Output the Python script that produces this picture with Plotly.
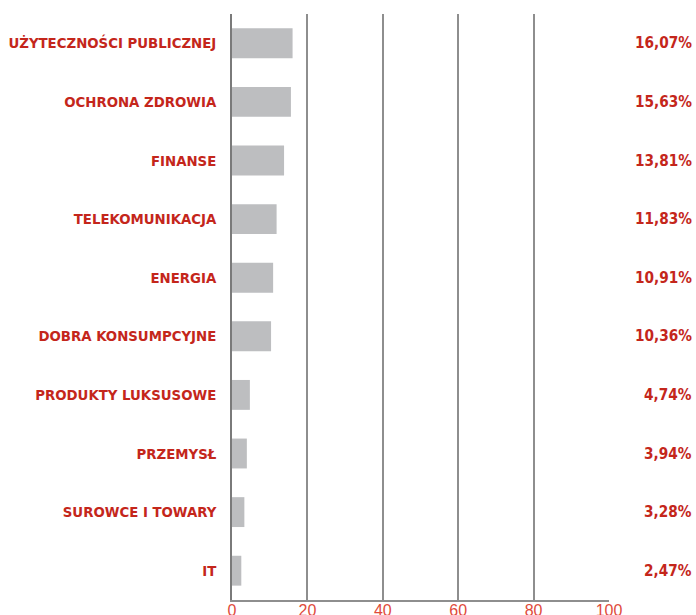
import plotly.graph_objects as go

categories = ["UŻYTECZNOŚCI PUBLICZNEJ", "OCHRONA ZDROWIA", "FINANSE", "TELEKOMUNIKACJA",
              "ENERGIA", "DOBRA KONSUMPCYJNE", "PRODUKTY LUKSUSOWE", "PRZEMYSŁ",
              "SUROWCE I TOWARY", "IT"]
values = [16.07, 15.63, 13.81, 11.83, 10.91, 10.36, 4.74, 3.94, 3.28, 2.47]
value_labels = ["16,07%", "15,63%", "13,81%", "11,83%", "10,91%", "10,36%", "4,74%", "3,94%", "3,28%", "2,47%"]
x_ticks = [0, 20, 40, 60, 80, 100]

RED = "#c4261b"
FONT = "DejaVu Sans Condensed, Liberation Sans Narrow, Arial Narrow, sans-serif"

fig = go.Figure()
fig.add_trace(go.Bar(
    x=values, y=categories, orientation="h",
    marker=dict(color="#bdbec0", line=dict(width=0)),
    hoverinfo="skip",
))

for cat, lab in zip(categories, value_labels):
    fig.add_annotation(
        x=1, xref="paper", y=cat, yref="y", text="<b>" + lab + "</b>",
        showarrow=False, xanchor="right", xshift=85,
        font=dict(family=FONT, size=15.2, color=RED),
    )

fig.update_layout(
    width=696, height=615,
    margin=dict(l=232, r=87, t=14, b=15),
    paper_bgcolor="white", plot_bgcolor="white",
    bargap=0.49, showlegend=False,
    xaxis=dict(
        range=[0, 100], tickvals=x_ticks, ticktext=[str(t) for t in x_ticks],
        showgrid=True, gridcolor="#8e8e8e", gridwidth=1.5,
        zeroline=False, showline=True, linecolor="#8e8e8e", linewidth=1.5,
        tickfont=dict(family="Liberation Sans, Arial, sans-serif", size=16, color="#e04a3a"),
        ticks="", fixedrange=True, automargin=False,
        ticklabelstandoff=-5,
    ),
    yaxis=dict(
        categoryorder="array", categoryarray=categories[::-1],
        tickvals=categories, ticktext=["<b>" + c + "</b>" for c in categories],
        showline=True, linecolor="#7a7a7a", linewidth=1.5,
        showgrid=False, zeroline=False, ticks="",
        ticklabelstandoff=11, automargin=False, fixedrange=True,
        tickfont=dict(family=FONT, size=14.8, color=RED),
    ),
)

fig.write_html(
    "out.html",
    config={"displayModeBar": False},
    post_script="document.body.style.margin='0';document.body.style.overflow='hidden';",
)
